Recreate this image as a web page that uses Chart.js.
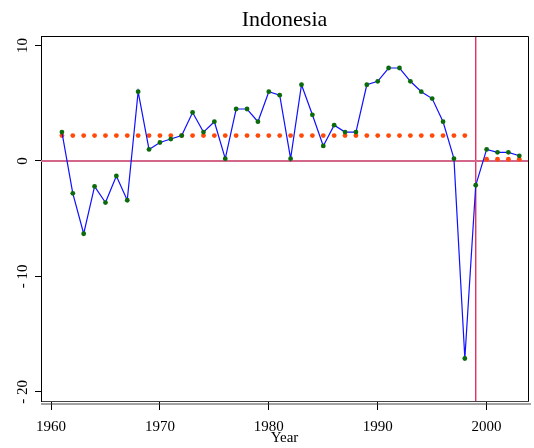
<!DOCTYPE html>
<html lang="en">
<head>
<meta charset="UTF-8">
<title>Indonesia</title>
<script src="https://cdn.jsdelivr.net/npm/chart.js"></script>
<style>
  body { margin: 0; background: #fff; }
</style>
</head>
<body>
<canvas id="growthChart" width="534" height="448"></canvas>
<script>
// yearly values
const years = [1961, 1962, 1963, 1964, 1965, 1966, 1967, 1968, 1969, 1970,
               1971, 1972, 1973, 1974, 1975, 1976, 1977, 1978, 1979, 1980,
               1981, 1982, 1983, 1984, 1985, 1986, 1987, 1988, 1989, 1990,
               1991, 1992, 1993, 1994, 1995, 1996, 1997, 1998, 1999, 2000,
               2001, 2002, 2003];
const growth = [2.5, -2.8, -6.3, -2.2, -3.6, -1.3, -3.4, 6.0, 1.0, 1.6,
                1.9, 2.2, 4.2, 2.5, 3.4, 0.2, 4.5, 4.5, 3.4, 6.0,
                5.7, 0.2, 6.6, 4.0, 1.3, 3.1, 2.5, 2.5, 6.6, 6.9,
                8.05, 8.05, 6.9, 6.0, 5.4, 3.4, 0.2, -17.1, -2.1, 1.0,
                0.75, 0.75, 0.45];
// dotted period means (no value in 1999)
const periodMean = [2.2, 2.2, 2.2, 2.2, 2.2, 2.2, 2.2, 2.2, 2.2, 2.2,
                    2.2, 2.2, 2.2, 2.2, 2.2, 2.2, 2.2, 2.2, 2.2, 2.2,
                    2.2, 2.2, 2.2, 2.2, 2.2, 2.2, 2.2, 2.2, 2.2, 2.2,
                    2.2, 2.2, 2.2, 2.2, 2.2, 2.2, 2.2, 2.2, null, 0.15,
                    0.15, 0.15, 0.15];
const breakYear = 1999;
const xTicks = [1960, 1970, 1980, 1990, 2000];
const yTicks = [-20, -10, 0, 10];

const xMin = 1959.08, xMax = 2003.8;
const yMin = -20.78, yMax = 10.82;

const serif = 'Liberation Serif';

// top/right frame and the second (offset) x axis line, Stata style
const framePlugin = {
    id: 'frame',
    afterDatasetsDraw(chart) {
        const { ctx, chartArea: a } = chart;
        ctx.save();
        ctx.lineWidth = 1;
        ctx.strokeStyle = '#000';
        ctx.beginPath();
        ctx.moveTo(a.left, a.top + 0.5);
        ctx.lineTo(a.right + 0.5, a.top + 0.5);
        ctx.lineTo(a.right + 0.5, a.bottom);
        ctx.stroke();
        ctx.strokeStyle = '#444';
        ctx.beginPath();
        ctx.moveTo(a.left, a.bottom + 3);
        ctx.lineTo(a.right + 3, a.bottom + 3);
        ctx.stroke();
        ctx.restore();
    }
};

const ctx = document.getElementById('growthChart').getContext('2d');
new Chart(ctx, {
    type: 'line',
    data: {
        datasets: [{
            label: 'growth',
            data: years.map((yr, i) => ({ x: yr, y: growth[i] })),
            borderColor: '#1010ff',
            borderWidth: 1.2,
            pointRadius: 2.4,
            pointBorderWidth: 0,
            pointBackgroundColor: '#0b6a0b',
            tension: 0
        }, {
            label: 'mean',
            data: years.map((yr, i) => ({ x: yr, y: periodMean[i] })),
            showLine: false,
            pointRadius: 2.4,
            pointBorderWidth: 0,
            pointBackgroundColor: '#ff4a0a'
        }, {
            label: 'zero',
            data: [{ x: xMin, y: 0 }, { x: xMax, y: 0 }],
            borderColor: '#d4668a',
            borderWidth: 2,
            pointRadius: 0
        }, {
            label: 'break',
            data: [{ x: breakYear, y: yMin }, { x: breakYear, y: yMax }],
            borderColor: '#e0305f',
            borderWidth: 1.4,
            pointRadius: 0
        }]
    },
    options: {
        responsive: false,
        animation: false,
        devicePixelRatio: 1,
        layout: { padding: { left: 0, right: 6, top: 0, bottom: 0 } },
        plugins: {
            legend: { display: false },
            tooltip: { enabled: false },
            title: {
                display: true,
                text: 'Indonesia',
                fullSize: false,
                color: '#000',
                font: { family: serif, size: 22, weight: 'normal', lineHeight: 1.2 },
                padding: { top: 7, bottom: 2.6 }
            }
        },
        scales: {
            x: {
                type: 'linear',
                min: xMin,
                max: xMax,
                afterFit: s => { s.height = 47; },
                afterBuildTicks: s => { s.ticks = xTicks.map(v => ({ value: v })); },
                ticks: {
                    color: '#000',
                    font: { family: serif, size: 15 },
                    padding: 8,
                    maxRotation: 0,
                    callback: v => String(v)
                },
                grid: { drawOnChartArea: false, tickLength: 9, color: '#000' },
                border: { color: '#444', width: 1 },
                title: {
                    display: true,
                    text: 'Year',
                    color: '#000',
                    font: { family: serif, size: 15 },
                    padding: { top: 0, bottom: 1 }
                }
            },
            y: {
                min: yMin,
                max: yMax,
                afterFit: s => { s.width = 41; },
                afterBuildTicks: s => { s.ticks = yTicks.map(v => ({ value: v })); },
                ticks: {
                    color: '#000',
                    font: { family: serif, size: 15 },
                    minRotation: 90,
                    maxRotation: 90,
                    crossAlign: 'center',
                    padding: 0,
                    callback: v => v < 0 ? '- ' + (-v) : String(v)
                },
                grid: { drawOnChartArea: false, tickLength: 6, color: '#000' },
                border: { color: '#000', width: 1 }
            }
        }
    },
    plugins: [framePlugin]
});
</script>
</body>
</html>
